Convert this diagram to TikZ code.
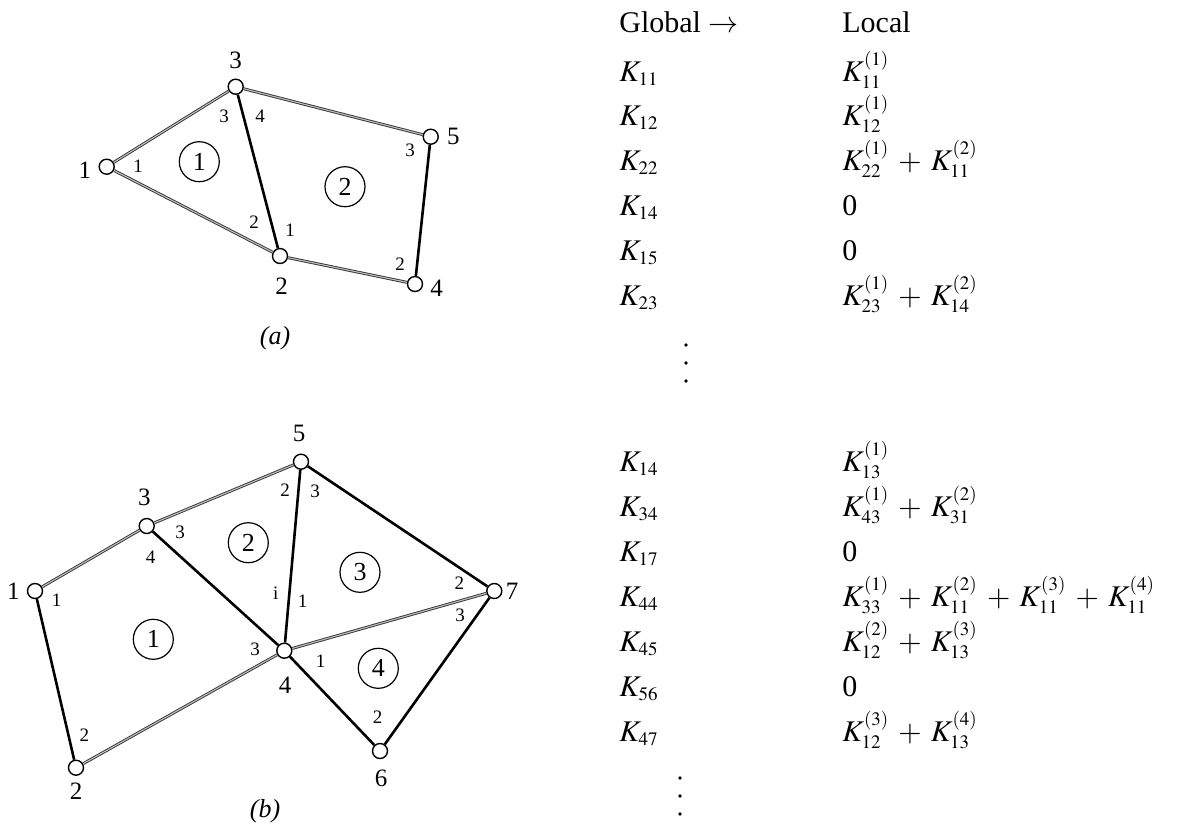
\documentclass[tikz,border=0pt]{standalone}
\usepackage{mathptmx}
\usepackage{fontspec}
\setmainfont{Liberation Serif}
\DeclareMathSizes{15}{15}{9.5}{7}
\usetikzlibrary{positioning}
\newcommand{\pl}{\mkern3mu+\mkern3mu}
\tikzset{
  gnode/.style  = {circle, draw, line width=0.7pt, fill=white, minimum size=7.5pt, inner sep=0pt},
  glabel/.style = {font=\fontsize{12.5}{14}\selectfont, inner sep=0pt},
  llabel/.style = {font=\fontsize{9.5}{11}\selectfont, inner sep=0pt},
  elem/.style   = {circle, draw, line width=0.6pt, minimum size=20pt, inner sep=0pt,
                   font=\fontsize{13}{15}\selectfont},
  bar/.style    = {line width=1.3pt, draw=black},
  rod/.style    = {line width=0.45pt, draw=black!80, double=black!25, double distance=0.55pt},
  tab/.style    = {anchor=base west, inner sep=0pt, font=\fontsize{15}{18}\selectfont},
  capt/.style   = {font=\fontsize{13}{15}\selectfont\itshape, inner sep=0pt},
}
\begin{document}
\begin{tikzpicture}[x=0.5pt, y=-0.5pt]
  \useasboundingbox (0,0) rectangle (1185,827);

  % (a) two elements
  \node[gnode] (a1) at (106.7,166.7) {};
  \node[gnode] (a2) at (280,256) {};
  \node[gnode] (a3) at (235.7,86.7) {};
  \node[gnode] (a4) at (415,284) {};
  \node[gnode] (a5) at (430.7,136.7) {};
  \draw[rod] (a1) -- (a3);
  \draw[rod] (a1) -- (a2);
  \draw[rod] (a3) -- (a5);
  \draw[rod] (a2) -- (a4);
  \draw[bar] (a3) -- (a2);
  \draw[bar] (a5) -- (a4);
  \node[glabel] (a1n) at (85,170) {1};
  \node[glabel] (a2n) at (281.7,286.7) {2};
  \node[glabel] (a3n) at (235.7,60) {3};
  \node[glabel] (a4n) at (436.7,288) {4};
  \node[glabel] (a5n) at (453.3,136.7) {5};
  \node[llabel] at (138,166) {1};
  \node[llabel] at (224,116.7) {3};
  \node[llabel] at (260,116.7) {4};
  \node[llabel] at (254,221.7) {2};
  \node[llabel] at (290,230) {1};
  \node[llabel] at (410,150) {3};
  \node[llabel] at (400,264) {2};
  \node[elem] (ae1) at (199.3,161.7) {1};
  \node[elem] (ae2) at (345,186.7) {2};
  \node[capt] (capa) at (275,338) {(a)};

  % (b) four elements
  \node[gnode] (b1) at (35,591) {};
  \node[gnode] (b2) at (76,767.7) {};
  \node[gnode] (b3) at (146.7,526) {};
  \node[gnode] (b4) at (284.3,650.7) {};
  \node[gnode] (b5) at (301,461.7) {};
  \node[gnode] (b6) at (380,751) {};
  \node[gnode] (b7) at (494.3,591) {};
  \draw[rod] (b1) -- (b3);
  \draw[rod] (b3) -- (b5);
  \draw[rod] (b2) -- (b4);
  \draw[rod] (b4) -- (b7);
  \draw[bar] (b1) -- (b2);
  \draw[bar] (b3) -- (b4);
  \draw[bar] (b5) -- (b4);
  \draw[bar] (b5) -- (b7);
  \draw[bar] (b4) -- (b6);
  \draw[bar] (b6) -- (b7);
  \node[glabel] (b1n) at (13.3,591) {1};
  \node[glabel] (b2n) at (76,791.7) {2};
  \node[glabel] (b3n) at (144.4,497) {3};
  \node[glabel] (b4n) at (285,685) {4};
  \node[glabel] (b5n) at (299,433) {5};
  \node[glabel] (b6n) at (381,778) {6};
  \node[glabel] (b7n) at (512,591.7) {7};
  \node[llabel] at (56.7,600.7) {1};
  \node[llabel] at (84.3,735) {2};
  \node[llabel] at (150.7,557) {4};
  \node[llabel] at (180,532.7) {3};
  \node[llabel] at (285,490) {2};
  \node[llabel] at (315,491.7) {3};
  \node[llabel] at (275.7,593) {i};
  \node[llabel] at (302.7,601.7) {1};
  \node[llabel] at (255,649) {3};
  \node[llabel] at (320.7,661) {1};
  \node[llabel] at (459.3,582.7) {2};
  \node[llabel] at (460,615) {3};
  \node[llabel] at (377.7,716.7) {2};
  \node[elem] (be1) at (153.3,639.3) {1};
  \node[elem] (be2) at (248.3,542.7) {2};
  \node[elem] (be3) at (360,572.3) {3};
  \node[elem] (be4) at (378.3,668.3) {4};
  \node[capt] (capb) at (265,811.7) {(b)};

  % table for (a)
  \node[tab] (hg) at (619,32) {Global $\rightarrow$};
  \node[tab] (hl) at (842,32) {Local};
  \node[tab] (ga1) at (619,81)  {$K_{11}$};
  \node[tab] (la1) at (842,81)  {$K^{(1)}_{11}$};
  \node[tab] (ga2) at (619,125) {$K_{12}$};
  \node[tab] (la2) at (842,125) {$K^{(1)}_{12}$};
  \node[tab] (ga3) at (619,170) {$K_{22}$};
  \node[tab] (la3) at (842,170) {$K^{(1)}_{22} \pl K^{(2)}_{11}$};
  \node[tab] (ga4) at (619,215) {$K_{14}$};
  \node[tab] (la4) at (842,215) {0};
  \node[tab] (ga5) at (619,260) {$K_{15}$};
  \node[tab] (la5) at (842,260) {0};
  \node[tab] (ga6) at (619,305) {$K_{23}$};
  \node[tab] (la6) at (842,305) {$K^{(1)}_{23} \pl K^{(2)}_{14}$};
  \fill (686,345) circle (0.9pt) (686,363) circle (0.9pt) (686,381) circle (0.9pt);

  % table for (b)
  \node[tab] (gb1) at (619,471) {$K_{14}$};
  \node[tab] (lb1) at (842,471) {$K^{(1)}_{13}$};
  \node[tab] (gb2) at (619,516) {$K_{34}$};
  \node[tab] (lb2) at (842,516) {$K^{(1)}_{43} \pl K^{(2)}_{31}$};
  \node[tab] (gb3) at (619,561) {$K_{17}$};
  \node[tab] (lb3) at (842,561) {0};
  \node[tab] (gb4) at (619,606) {$K_{44}$};
  \node[tab] (lb4) at (842,606) {$K^{(1)}_{33} \pl K^{(2)}_{11} \pl K^{(3)}_{11} \pl K^{(4)}_{11}$};
  \node[tab] (gb5) at (619,651) {$K_{45}$};
  \node[tab] (lb5) at (842,651) {$K^{(2)}_{12} \pl K^{(3)}_{13}$};
  \node[tab] (gb6) at (619,696) {$K_{56}$};
  \node[tab] (lb6) at (842,696) {0};
  \node[tab] (gb7) at (619,741) {$K_{47}$};
  \node[tab] (lb7) at (842,741) {$K^{(3)}_{12} \pl K^{(4)}_{13}$};
  \fill (680,778) circle (0.9pt) (680,796) circle (0.9pt) (680,814) circle (0.9pt);
\end{tikzpicture}
\end{document}
